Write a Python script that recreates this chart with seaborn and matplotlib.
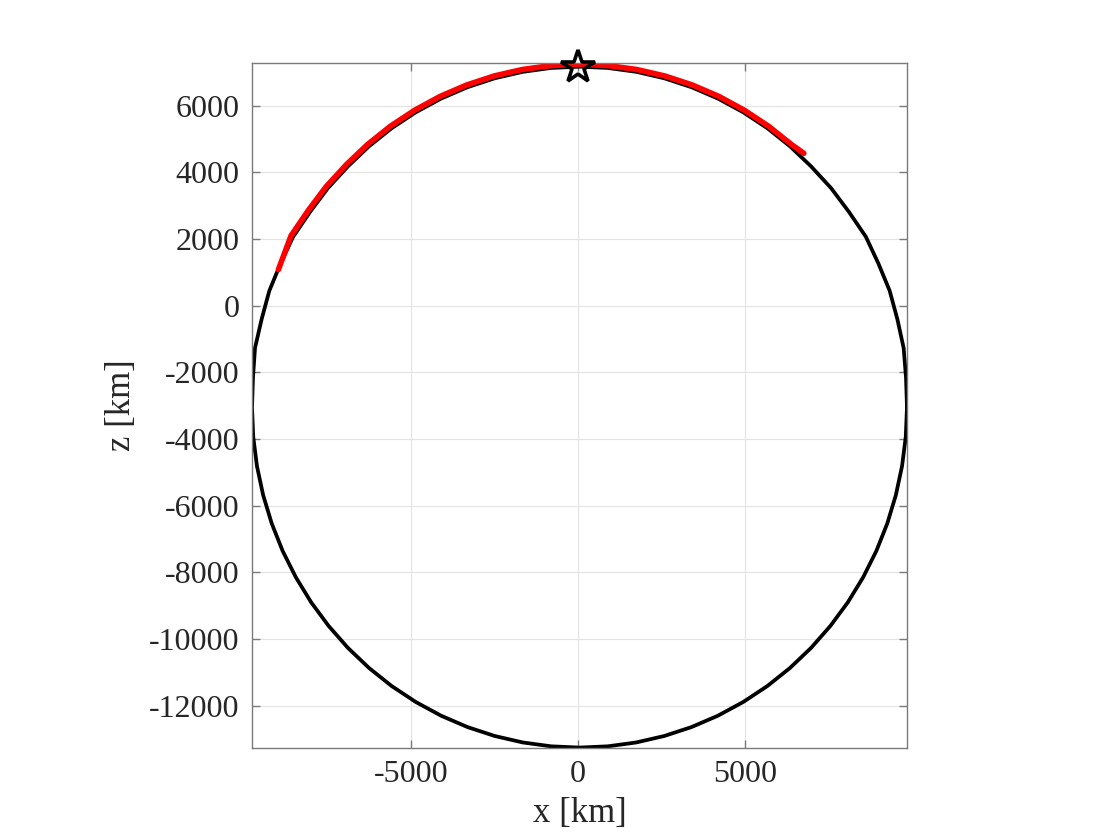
import numpy as np
import pandas as pd
import matplotlib
matplotlib.use("Agg")
import matplotlib.pyplot as plt
import seaborn as sns

# orbit outline (x, z) in km, going round once
orbit_x = [9850, 9820, 9750, 9560, 9330, 8990, 8620, 8110, 7580, 6977,
           6346, 5667, 4945, 4186, 3395, 2579, 1743, 895, 40,
           -815, -1663, -2499, -3315, -4106, -4865, -5587, -6266, -6897,
           -7500, -8030, -8540, -8910, -9250, -9480, -9680, -9740, -9770,
           -9733, -9621, -9435, -9178, -8851, -8455, -7996, -7474, -6897,
           -6266, -5587, -4865, -4106, -3315, -2499, -1663, -815, 40,
           895, 1743, 2579, 3395, 4186, 4945, 5667, 6346, 6977,
           7554, 8076, 8535, 8931, 9258, 9515, 9701, 9813, 9850]
orbit_z = [-3045, -2154, -1272, -401, 449, 1272, 2063, 2814, 3521, 4178,
           4780, 5323, 5801, 6213, 6554, 6822, 7015, 7131, 7170,
           7131, 7015, 6822, 6554, 6213, 5801, 5323, 4780, 4178,
           3521, 2814, 2063, 1272, 449, -401, -1272, -2154, -3045,
           -3936, -4818, -5689, -6539, -7362, -8153, -8904, -9611, -10268,
           -10870, -11413, -11891, -12303, -12644, -12912, -13105, -13221, -13260,
           -13221, -13105, -12912, -12644, -12303, -11891, -11413, -10870, -10268,
           -9611, -8904, -8153, -7362, -6539, -5689, -4818, -3936, -3045]

# red track segment (x, z) in km
track_x = [-8980, -8600, -8086, -7553, -6946, -6310, -5626, -4899, -4135,
           -3338, -2517, -1675, -821, 40, 901, 1755, 2597, 3418, 4215,
           4979, 5706, 6390, 6760]
track_z = [1080, 2099, 2855, 3567, 4229, 4835, 5382, 5863, 6278,
           6621, 6891, 7085, 7202, 7242, 7202, 7085, 6891, 6621, 6278,
           5863, 5382, 4835, 4570]

# star position
star_x = [0]
star_z = [7170]

orbit = pd.DataFrame({"x": orbit_x, "z": orbit_z})
track = pd.DataFrame({"x": track_x, "z": track_z})

sns.set_style("white")
plt.rcParams['font.family'] = ['Liberation Serif', 'DejaVu Serif']
plt.rcParams['axes.unicode_minus'] = False

fig = plt.figure(figsize=(11.2, 8.4), dpi=100)
ax = fig.add_axes([0.225, 0.11, 0.585, 0.8154])

sns.lineplot(data=orbit, x="x", y="z", sort=False, estimator=None,
             color="black", linewidth=2.7, ax=ax,
             solid_joinstyle="round")
sns.lineplot(data=track, x="x", y="z", sort=False, estimator=None,
             color="red", linewidth=4.0, ax=ax,
             solid_joinstyle="round")
ax.plot(star_x, star_z, marker="*", markersize=25, markerfacecolor="none",
        markeredgecolor="black", markeredgewidth=2.6, linestyle="none",
        clip_on=False, zorder=5)

ax.set_xlim(-9770, 9856)
ax.set_ylim(-13260, 7290)
ax.set_xticks([-5000, 0, 5000])
ax.set_yticks(np.arange(-12000, 6001, 2000))
ax.grid(True, color="#e3e3e3", linewidth=0.8)
ax.set_axisbelow(True)

for s in ax.spines.values():
    s.set_visible(True)
    s.set_color("#7a7a7a")
    s.set_linewidth(1.0)
ax.tick_params(direction="in", length=6, width=1.0, colors="#7a7a7a",
               labelcolor="#262626", labelsize=23, top=True, right=True,
               bottom=True, left=True, pad=9)

ax.set_xlabel("x [km]", fontsize=25, color="#262626", labelpad=6)
ax.set_ylabel("z [km]", fontsize=25, color="#262626", labelpad=8)

fig.savefig("out.png", dpi=100, facecolor="white")
